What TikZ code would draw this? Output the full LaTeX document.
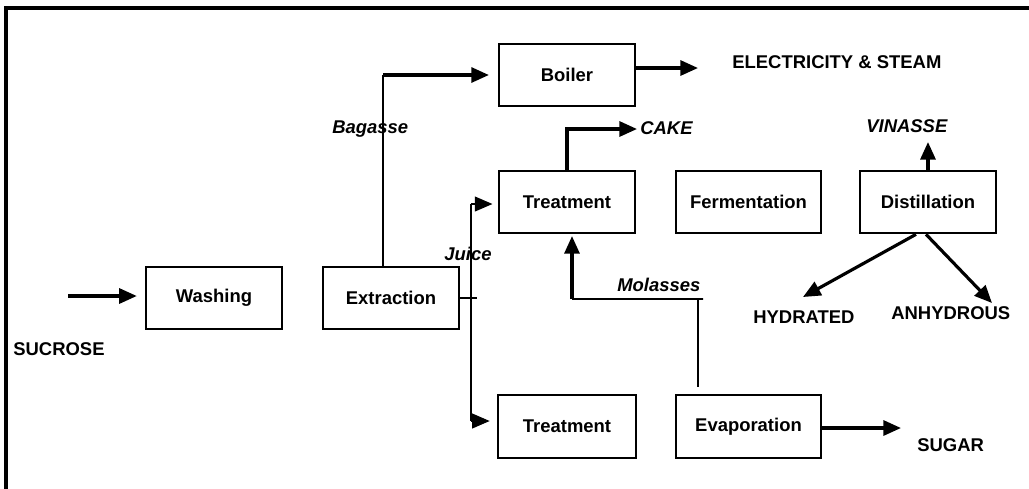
\documentclass[tikz,border=0pt]{standalone}
\usepackage{fontspec}
\setmainfont{Liberation Sans}
\usetikzlibrary{arrows.meta}

\begin{document}
\begin{tikzpicture}[x=0.02cm, y=-0.02cm,
  font=\bfseries\fontsize{10.5}{12}\selectfont,
  proc/.style={draw, line width=1.5pt, minimum width=2.72cm, minimum height=1.24cm, inner sep=0pt},
  lbl/.style={anchor=west, inner sep=0pt, text height=7pt, text depth=0pt},
  itl/.style={lbl, font=\bfseries\itshape\fontsize{10.5}{12}\selectfont},
  feed/.style={line width=0.6pt},
  flow/.style={line width=1.8pt, -{Triangle[length=10pt,width=8.5pt]}},
  tip/.style={line width=0.6pt, -{Triangle[length=10pt,width=8.5pt]}}]
 \useasboundingbox (0,0) rectangle (1029,488);
 \draw[line width=2.3pt] (6,500) -- (6,8) -- (1040,8);

 \node[proc] (boiler) at (567,75) {Boiler};
 \node[proc] (treat1) at (567,202) {Treatment};
 \node[proc, minimum width=2.9cm] (ferment) at (748.5,202) {Fermentation};
 \node[proc] (distill) at (928,202) {Distillation};
 \node[proc] (wash) at (214,298) {Washing};
 \node[proc] (extract) at (391,298) {Extraction};
 \node[proc, minimum width=2.76cm, minimum height=1.26cm] (treat2) at (567,426.5) {Treatment};
 \node[proc, minimum width=2.9cm, minimum height=1.26cm] (evap) at (748.5,426.5) {Evaporation};

 \node[lbl] (sucrose) at (13,349) {SUCROSE};
 \node[lbl] (elec) at (732,62) {ELECTRICITY \& STEAM};
 \node[itl] (cake) at (640,128) {CAKE};
 \node[itl] (bagasse) at (332,127) {Bagasse};
 \node[itl] (juice) at (444,254) {Juice};
 \node[itl] (molasses) at (617,285) {Molasses};
 \node[itl] (vinasse) at (866,126) {VINASSE};
 \node[lbl] (hydrated) at (753,317) {HYDRATED};
 \node[lbl] (anhydrous) at (891,313) {ANHYDROUS};
 \node[lbl] (sugar) at (917,445) {SUGAR};

 \coordinate (in) at (68,296);
 \coordinate (bag) at (383,75);
 \coordinate (steam) at (698,68);
 \coordinate (cakeend) at (637,129);
 \coordinate (jtop) at (471,204);
 \coordinate (jbot) at (471,421);
 \coordinate (jx) at (477,298);
 \coordinate (mol) at (698,299);
 \coordinate (molup) at (572,299);
 \coordinate (vin) at (928,142);
 \coordinate (hyd) at (803,297);
 \coordinate (anh) at (992,303);
 \coordinate (sug) at (901,428);

 \draw[flow, shorten >=4.5pt] (in) -- (in -| wash.west);
 \draw[feed] (bag |- extract.north) -- (bag);
 \draw[flow, shorten >=5pt] (bag) -- (bag -| boiler.west);
 \draw[flow] (steam -| boiler.east) -- (steam);
 \draw[flow] (treat1.north) |- (cakeend);
 \draw[feed] (extract.east) -- (jx);
 \draw[feed] (jtop) -- (jbot);
 \draw[tip, shorten >=3pt] (jtop) -- (jtop -| treat1.west);
 \draw[tip, shorten >=4pt] (jbot) -- (jbot -| treat2.west);
 \draw[feed, shorten <=4pt] (mol |- evap.north) -- (mol) -- ([xshift=0.1cm]mol) -- (molup);
 \draw[flow, shorten >=1pt] (molup) -- (molup |- treat1.south);
 \draw[flow] (distill.north) -- (vin);
 \draw[flow] ([xshift=-0.24cm]distill.south) -- (hyd);
 \draw[flow] ([xshift=-0.04cm]distill.south) -- (anh);
 \draw[flow] (sug -| evap.east) -- (sug);
\end{tikzpicture}
\end{document}
